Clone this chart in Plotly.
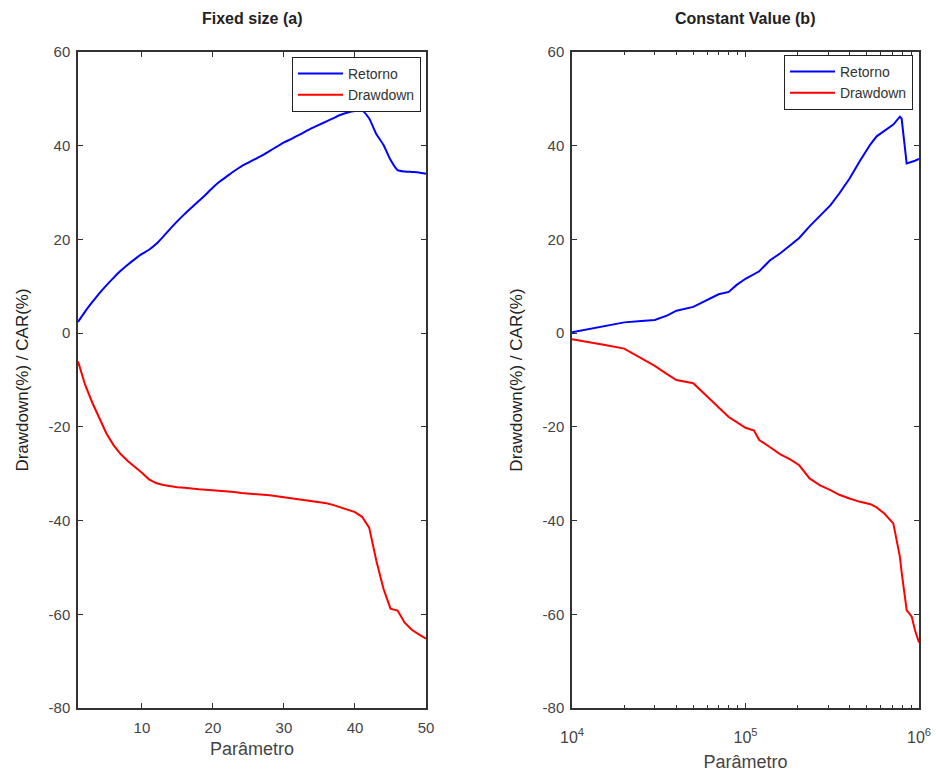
import plotly.graph_objects as go

# ---------------- data ----------------
param_a = list(range(1, 51))
retorno_a = [2.4, 4.6, 6.6, 8.5, 10.2, 11.8, 13.3, 14.6, 15.8, 16.9,
             17.8, 19.0, 20.6, 22.3, 23.9, 25.4, 26.8, 28.2, 29.6, 31.1,
             32.4, 33.5, 34.6, 35.6, 36.4, 37.2, 38.0, 38.9, 39.8, 40.7,
             41.4, 42.2, 43.0, 43.8, 44.5, 45.2, 45.9, 46.6, 47.1, 47.4,
             47.5, 45.8, 42.5, 40.2, 37.0, 34.8, 34.5, 34.4, 34.3, 34.0]
drawdown_a = [-6.0, -11.0, -14.8, -18.3, -21.4, -23.9, -25.8, -27.3, -28.5, -29.8,
              -31.2, -32.0, -32.4, -32.7, -32.9, -33.0, -33.2, -33.3, -33.4, -33.5,
              -33.6, -33.8, -33.9, -34.1, -34.2, -34.4, -34.5, -34.6, -34.8, -35.0,
              -35.2, -35.4, -35.7, -35.9, -36.1, -36.3, -36.7, -37.2, -37.7, -38.2,
              -39.2, -41.5, -48.5, -54.5, -58.8, -59.2, -61.8, -63.3, -64.3, -65.2]

param_b = [10000, 12600, 15800, 20000, 25100, 30000, 35500, 40000, 50000, 60000,
           70000, 80000, 89000, 100000, 112000, 120000, 138000, 158000, 182000, 204000,
           234000, 269000, 309000, 347000, 398000, 457000, 525000, 570000, 631000, 711000,
           776000, 794000, 849000, 908000, 948000, 1000000]
retorno_b = [0.2, 0.9, 1.6, 2.3, 2.6, 2.8, 3.8, 4.8, 5.6, 7.0,
             8.3, 8.8, 10.3, 11.6, 12.7, 13.2, 15.5, 17.0, 18.8, 20.3,
             22.8, 25.0, 27.3, 29.8, 33.0, 36.8, 40.3, 42.0, 43.2, 44.5,
             46.2, 45.8, 36.2, 36.5, 36.8, 37.2]
drawdown_b = [-1.3, -1.9, -2.6, -3.3, -5.3, -7.0, -8.8, -10.0, -10.7, -13.5,
              -16.0, -17.9, -19.0, -20.2, -20.8, -22.8, -24.3, -25.8, -27.0, -28.2,
              -31.0, -32.5, -33.5, -34.5, -35.3, -36.0, -36.5, -37.2, -38.5, -40.6,
              -47.7, -51.0, -59.1, -60.5, -63.4, -66.0]

y_ticks = [60, 40, 20, 0, -20, -40, -60, -80]
y_ticktext = [str(v) for v in y_ticks]
x_ticks_a = [10, 20, 30, 40, 50]
x_ticks_b = [1e4, 1e5, 1e6]
x_ticktext_b = ["10<sup>4</sup>", "10<sup>5</sup>", "10<sup>6</sup>"]
x_minor_b = [m * 10 ** e for e in (4, 5) for m in range(2, 10)]

titles = ["Fixed size (a)", "Constant Value (b)"]
FONT = "Liberation Sans, Arial, sans-serif"
TXT = "#444444"
FRAME = "#333333"

fig = go.Figure()
fig.add_trace(go.Scatter(x=param_a, y=retorno_a, mode="lines", name="Retorno",
                         line=dict(color="#0000ff", width=2, shape="spline", smoothing=0.6),
                         xaxis="x", yaxis="y", legend="legend"))
fig.add_trace(go.Scatter(x=param_a, y=drawdown_a, mode="lines", name="Drawdown",
                         line=dict(color="#ff0000", width=2), xaxis="x", yaxis="y",
                         legend="legend"))
fig.add_trace(go.Scatter(x=param_b, y=retorno_b, mode="lines", name="Retorno",
                         line=dict(color="#0000ff", width=2), xaxis="x2", yaxis="y2",
                         legend="legend2"))
fig.add_trace(go.Scatter(x=param_b, y=drawdown_b, mode="lines", name="Drawdown",
                         line=dict(color="#ff0000", width=2), xaxis="x2", yaxis="y2",
                         legend="legend2"))

W, H = 936, 774
dom_y = [1 - 708 / H, 1 - 52 / H]

common_axis = dict(showline=True, linecolor=FRAME, linewidth=1.5, mirror="allticks",
                   ticks="inside", ticklen=5, tickwidth=1.2, tickcolor=FRAME,
                   showgrid=False, zeroline=False, automargin=False,
                   tickfont=dict(family=FONT, size=15, color=TXT))

yaxis_common = dict(common_axis, range=[-80, 60], tickvals=y_ticks, ticktext=y_ticktext,
                    ticklabelstandoff=3,
                    title=dict(text="Drawdown(%) / CAR(%)", standoff=16,
                               font=dict(family=FONT, size=17, color="#222222")))

legend_common = dict(bgcolor="white", bordercolor="#222222", borderwidth=1,
                     font=dict(family=FONT, size=14, color="#333333"),
                     xanchor="right", yanchor="top", itemwidth=45,
                     tracegroupgap=0)

fig.update_layout(
    width=W, height=H,
    margin=dict(l=0, r=0, t=0, b=0),
    paper_bgcolor="white", plot_bgcolor="white",
    xaxis=dict(common_axis, domain=[78 / W, 426 / W], range=[1, 50], tickvals=x_ticks_a,
               anchor="y", ticklabelstandoff=5,
               title=dict(text="Parâmetro", standoff=8,
                          font=dict(family=FONT, size=18, color=TXT))),
    yaxis=dict(yaxis_common, domain=dom_y, anchor="x"),
    xaxis2=dict(common_axis, domain=[572 / W, 919 / W], type="log", range=[4, 6],
                tickvals=x_ticks_b, ticktext=x_ticktext_b, anchor="y2",
                ticklabelstandoff=14,
                tickfont=dict(family=FONT, size=16, color=TXT),
                minor=dict(tickvals=x_minor_b, ticks="inside", ticklen=3,
                           tickcolor=FRAME, tickwidth=1),
                title=dict(text="Parâmetro", standoff=10,
                           font=dict(family=FONT, size=18, color=TXT))),
    yaxis2=dict(yaxis_common, domain=dom_y, anchor="x2"),
    legend=dict(legend_common, x=421 / W, y=1 - 57 / H),
    legend2=dict(legend_common, x=913 / W, y=1 - 55 / H),
    annotations=[
        dict(text="<b>" + titles[0] + "</b>", x=252 / W, y=1 - 18 / H, xref="paper",
             yref="paper", showarrow=False, xanchor="center", yanchor="middle",
             font=dict(family=FONT, size=16, color="#222222")),
        dict(text="<b>" + titles[1] + "</b>", x=745 / W, y=1 - 18 / H, xref="paper",
             yref="paper", showarrow=False, xanchor="center", yanchor="middle",
             font=dict(family=FONT, size=16, color="#222222")),
    ],
)

fig.write_html("out.html")
